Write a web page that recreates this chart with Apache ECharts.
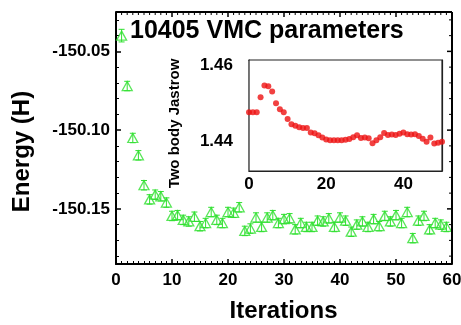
<!DOCTYPE html>
<html>
<head>
<meta charset="utf-8">
<script src="https://cdn.jsdelivr.net/npm/echarts@6/dist/echarts.min.js"></script>
<style>
html,body{margin:0;padding:0;background:#fff;}
#chart{width:461px;height:325px;}
</style>
</head>
<body>
<div id="chart"></div>
<script>
// ---- data ----
const titleText = '10405 VMC parameters';
const xName = 'Iterations';
const yName = 'Energy (H)';
const insetYName = 'Two body Jastrow';

const iterations = [1,2,3,4,5,6,7,8,9,10,11,12,13,14,15,16,17,18,19,20,21,22,23,24,25,26,27,28,29,30,31,32,33,34,35,36,37,38,39,40,41,42,43,44,45,46,47,48,49,50,51,52,53,54,55,56,57,58,59];
const energy = [-150.040,-150.072,-150.105,-150.116,-150.135,-150.144,-150.141,-150.142,-150.146,-150.1545,
  -150.154,-150.157,-150.158,-150.155,-150.161,-150.159,-150.152,-150.157,-150.159,-150.152,
  -150.1525,-150.149,-150.164,-150.1625,-150.1555,-150.1615,-150.1555,-150.154,-150.159,-150.1565,
  -150.156,-150.163,-150.159,-150.1615,-150.1615,-150.1575,-150.158,-150.156,-150.1615,-150.1555,
  -150.1575,-150.1645,-150.160,-150.158,-150.1615,-150.1565,-150.161,-150.1545,-150.158,-150.154,
  -150.159,-150.152,-150.1686,-150.1575,-150.1545,-150.163,-150.159,-150.160,-150.1615];
const energyErr = [0.004,0.003,0.003,0.003,0.003,0.003,0.003,0.003,0.003,0.003,
  0.003,0.003,0.003,0.003,0.003,0.003,0.003,0.003,0.003,0.003,
  0.003,0.003,0.003,0.003,0.003,0.003,0.003,0.003,0.003,0.003,
  0.003,0.003,0.003,0.003,0.003,0.003,0.003,0.003,0.003,0.003,
  0.003,0.003,0.003,0.003,0.003,0.003,0.003,0.003,0.003,0.003,
  0.003,0.003,0.003,0.003,0.003,0.003,0.003,0.003,0.003];

const jastrowIter = [0,1,2,3,4,5,6,7,8,9,10,11,12,13,14,15,16,17,18,19,20,21,22,23,24,25,26,27,28,29,30,31,32,33,34,35,36,37,38,39,40,41,42,43,44,45,46,47,48,49,50];
const jastrow = [1.4476,1.4476,1.4476,1.4516,1.4547,1.4545,1.4531,1.4500,1.4484,1.4476,
  1.4458,1.4444,1.4440,1.4436,1.4434,1.4434,1.4422,1.4420,1.4415,1.4409,
  1.4404,1.4402,1.4402,1.4402,1.4402,1.4403,1.4405,1.4410,1.4415,1.4408,
  1.4409,1.4407,1.4394,1.4402,1.4410,1.4421,1.4416,1.4417,1.4416,1.4419,
  1.4422,1.4418,1.4417,1.4418,1.4413,1.4406,1.4398,1.4409,1.4393,1.4395,1.4398];

const mainXTicks = [0,10,20,30,40,50,60];
const mainYLabels = [-150.15,-150.10,-150.05];
const insetXLabels = [0,20,40];
const insetYLabels = [1.44,1.46];

// ---- chart ----
const GREEN = '#2fe02f';
const RED = '#ee1111';
const X_MIN = 0, X_MAX = 60, Y_MIN = -150.185, Y_MAX = -150.025;
const chart = echarts.init(document.getElementById('chart'), null, {renderer:'canvas'});

const energyPts = iterations.map((x,i)=>[x, energy[i]]);
const errPts = iterations.map((x,i)=>[x, energy[i]-energyErr[i], energy[i]+energyErr[i]]);
const jastrowPts = jastrowIter.map((x,i)=>[x, jastrow[i]]);

const near = (v, list) => list.some(t => Math.abs(v - t) < 1e-6);
const font = 'Liberation Sans, Arial, sans-serif';

function mainAxisCommon(){
  return {
    show:true,
    axisLine:{show:true, onZero:false, lineStyle:{color:'#000', width:2}},
    axisTick:{show:true, inside:true, length:5, lineStyle:{color:'#000', width:1.5}},
    splitLine:{show:false}
  };
}
function insetAxisCommon(){
  return {
    show:true,
    gridIndex:1,
    axisLine:{show:true, onZero:false, lineStyle:{color:'#222', width:1.2}},
    axisTick:{show:true, inside:true, length:4, lineStyle:{color:'#222', width:1}},
    splitLine:{show:false}
  };
}

const textGraphics = [
  {type:'text', x:130, y:31, z:10,
    style:{text:titleText, fill:'#000', font:'bold 25px '+font, textAlign:'left', textVerticalAlign:'middle'}},
  {type:'text', x:283.5, y:311, z:10,
    style:{text:xName, fill:'#000', font:'bold 24px '+font, textAlign:'center', textVerticalAlign:'middle'}},
  {type:'text', x:22.5, y:151.5, rotation:Math.PI/2, z:10,
    style:{text:yName, fill:'#000', font:'bold 24px '+font, textAlign:'center', textVerticalAlign:'middle'}},
  {type:'text', x:174.5, y:123.5, rotation:Math.PI/2, z:10,
    style:{text:insetYName, fill:'#000', font:'bold 15px '+font, textAlign:'center', textVerticalAlign:'middle'}}
];

const option = {
  animation:false,
  backgroundColor:'#fff',
  grid:[
    {left:116, top:12, width:336, height:252, outerBoundsMode:'none'},
    {left:249, top:60, width:193, height:111, outerBoundsMode:'none', show:true, backgroundColor:'#fff', borderColor:'#222', borderWidth:1.2, z:5}
  ],
  xAxis:[
    Object.assign(mainAxisCommon(), {
      type:'value', gridIndex:0, position:'bottom', min:X_MIN, max:X_MAX, interval:10,
      minorTick:{show:true, splitNumber:10, length:3, lineStyle:{color:'#000', width:1}},
      axisLabel:{show:true, margin:8, color:'#000', fontSize:17, fontWeight:'bold', fontFamily:font}
    }),
    Object.assign(insetAxisCommon(), {
      type:'value', position:'bottom', min:0, max:50, interval:10,
      axisLabel:{show:true, margin:5, color:'#000', fontSize:17, fontWeight:'bold', fontFamily:font,
        formatter:v=> near(v, insetXLabels) ? String(v) : ''}
    }),
    Object.assign(insetAxisCommon(), {
      type:'value', position:'top', min:0, max:50, interval:10,
      axisLabel:{show:false}
    })
  ],
  yAxis:[
    Object.assign(mainAxisCommon(), {
      type:'value', gridIndex:0, position:'left', min:Y_MIN, max:Y_MAX, splitNumber:3,
      minorTick:{show:true, splitNumber:5, length:3, lineStyle:{color:'#000', width:1}},
      axisLabel:{show:true, margin:6, color:'#000', fontSize:17, fontWeight:'bold', fontFamily:font,
        formatter:v=> near(v, mainYLabels) ? v.toFixed(2) : ''}
    }),
    Object.assign(insetAxisCommon(), {
      type:'value', position:'left', min:1.432, max:1.4615, splitNumber:2,
      minorTick:{show:true, splitNumber:2, length:2, lineStyle:{color:'#222', width:1}},
      axisLabel:{show:true, margin:16, color:'#000', fontSize:17, fontWeight:'bold', fontFamily:font,
        formatter:v=> near(v, insetYLabels) ? v.toFixed(2) : ''}
    }),
    Object.assign(insetAxisCommon(), {
      type:'value', position:'right', min:1.432, max:1.4615, splitNumber:2,
      minorTick:{show:true, splitNumber:2, length:2, lineStyle:{color:'#222', width:1}},
      axisLabel:{show:false}
    })
  ],
  series:[
    {
      type:'custom', xAxisIndex:0, yAxisIndex:0, data:errPts, z:3,
      renderItem:(params, api)=>{
        const x = api.value(0);
        const top = api.coord([x, api.value(2)]);
        const bot = api.coord([x, api.value(1)]);
        const hw = 3;
        const st = {stroke:GREEN, lineWidth:1};
        return {type:'group', children:[
          {type:'line', shape:{x1:top[0], y1:top[1], x2:bot[0], y2:bot[1]}, style:st},
          {type:'line', shape:{x1:top[0]-hw, y1:top[1], x2:top[0]+hw, y2:top[1]}, style:st},
          {type:'line', shape:{x1:bot[0]-hw, y1:bot[1], x2:bot[0]+hw, y2:bot[1]}, style:st}
        ]};
      }
    },
    {
      type:'scatter', xAxisIndex:0, yAxisIndex:0, data:energyPts, z:4,
      symbol:'triangle', symbolSize:[10,9],
      itemStyle:{color:'rgba(255,255,255,0)', borderColor:GREEN, borderWidth:1.3}
    },
    {
      type:'scatter', xAxisIndex:1, yAxisIndex:1, data:jastrowPts, z:6,
      symbol:'circle', symbolSize:6,
      itemStyle:{color:RED}
    }
  ],
  graphic: textGraphics
};
chart.setOption(option);

// Mirrored top / right frame of the main plot, positioned through the grid's own scales
const P = (x, y) => chart.convertToPixel({gridIndex:0}, [x, y]);
const tl = P(X_MIN, Y_MAX), br = P(X_MAX, Y_MIN);
const frame = [];
const ln = (x1,y1,x2,y2,w) => ({type:'line', z:100, silent:true,
  shape:{x1:x1, y1:y1, x2:x2, y2:y2}, style:{stroke:'#000', lineWidth:w}});
frame.push(ln(tl[0], tl[1], br[0], tl[1], 2));
frame.push(ln(br[0], tl[1], br[0], br[1], 2));
for (let v = X_MIN + 1; v < X_MAX; v++) {
  const px = P(v, Y_MAX)[0];
  const major = v % 10 === 0;
  frame.push(ln(px, tl[1], px, tl[1] + (major ? 5 : 3), major ? 1.5 : 1));
}
for (let k = -18; k <= -3; k++) {
  const py = P(X_MAX, -150 + k / 100)[1];
  const major = k % 5 === 0;
  frame.push(ln(br[0], py, br[0] - (major ? 5 : 3), py, major ? 1.5 : 1));
}
chart.setOption({graphic: textGraphics.concat(frame)});
</script>
</body>
</html>
